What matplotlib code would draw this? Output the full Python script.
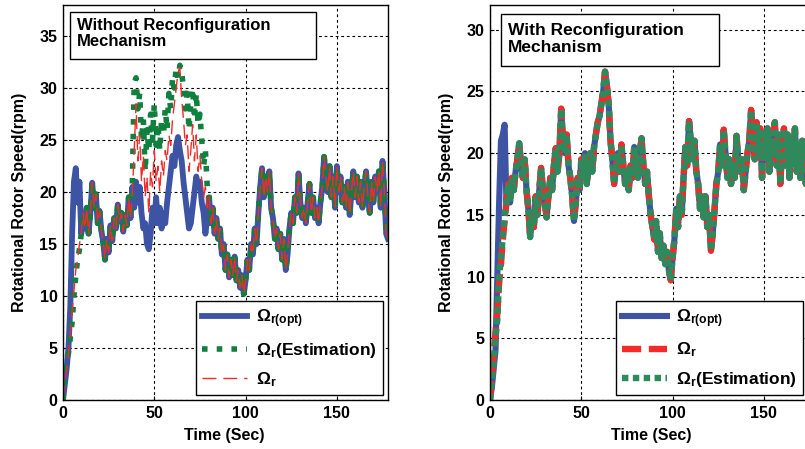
import numpy as np
import matplotlib
matplotlib.use('Agg')
import matplotlib.pyplot as plt
from matplotlib.patches import Rectangle

plt.rcParams['font.family'] = ['Liberation Sans', 'DejaVu Sans']
plt.rcParams['font.weight'] = 'bold'
plt.rcParams['mathtext.fontset'] = 'custom'
plt.rcParams['mathtext.rm'] = 'Liberation Sans:bold'
plt.rcParams['mathtext.bf'] = 'Liberation Sans:bold'
plt.rcParams['mathtext.it'] = 'Liberation Sans:bold'

# ---- left panel (without reconfiguration), 1 s samples ----
left_start_opt = [0, 1.5, 3, 5, 9, 16, 21, 22.3, 19, 21]
left_start_est = [0, 2.5, 4, 4.5, 6, 7.5, 10, 12, 13.5, 14.5]
left_start_rotor = [0, 1.5, 3, 4.5, 6.5, 8.5, 10.5, 12.5, 13.5, 15]
left_mid = [16, 18, 16.5, 18.5, 16, 18, 20.9, 18.5, 19.8, 17,
            18.2, 16.3, 15.2, 13.5, 15.5, 14.2, 16.8, 15.3, 17.5, 16.5,
            18.8, 17.2, 18, 16.2, 17.8, 16.8, 19.5, 17.5]
left_peak_opt = [20.5, 18.5, 21, 19, 20.5, 18, 16.5, 17, 15, 14.5,
                 16, 18.5, 17, 19.5, 17, 18.5, 16.5, 18, 17, 19,
                 20.5, 22, 23.5, 22.5, 24.5, 25.3, 24, 23, 21, 19.5,
                 18, 16.5, 17, 18.5, 20, 21.5, 20.5, 21, 19, 18, 16, 17.5]
left_peak_est = [21, 30.5, 31, 28, 29.5, 25, 27, 22, 26, 24,
                 27.5, 25, 28.5, 24.5, 26.5, 24, 27, 25.5, 28, 26,
                 29.5, 28, 31, 30, 32, 31, 32.2, 31.5, 30, 28,
                 29.5, 26, 28.5, 30, 27, 29.5, 26.5, 27.5, 25, 22.5, 24, 20.5]
left_peak_rotor = [20, 24, 28.5, 23, 25.5, 21, 23.5, 19.5, 21.5, 18,
                   22, 20.5, 24, 21, 22.5, 20, 23, 21.5, 24, 23,
                   25.5, 24.5, 27, 28.5, 30, 31.5, 32, 29, 27, 24.5,
                   25.5, 22, 24, 26.5, 23, 25.5, 22, 23.5, 21, 19.5, 20.5, 18.5]
left_tail = [19.5, 17, 18.5, 16, 17.5, 15.5, 16.5, 14, 15, 12.5,
             14, 11.8, 13.5, 12, 13.8, 11.5, 12.5, 10.8, 12, 10.2,
             11.5, 13.5, 12.5, 15, 14, 16.5, 15, 18, 20.5, 22.3,
             19.5, 21.5, 20, 22, 18.5, 17.5, 15.5, 16.5, 14.5, 16,
             13.5, 15.5, 12.5, 14, 16.5, 18, 17, 19.5, 18, 21.8,
             19, 17.5, 18.5, 17, 19, 20.8, 18, 19.5, 17.5, 18.5,
             17, 19, 20.5, 23.4, 21.5, 20, 22.5, 19.5, 21.5, 18.5,
             22.5, 20, 21.5, 19, 20.5, 18.5, 21, 17.8, 20, 22,
             19.5, 21.5, 19, 21, 18.5, 20.5, 22, 19.5, 18, 21,
             19, 21.5, 20, 22, 18.5, 23, 20, 16, 15.5]

# ---- right panel (with reconfiguration) ----
right_start_opt = [0, 1, 2.5, 4, 10, 16, 21, 21.5, 22.3]
right_start_rotor = [0, 2, 3.5, 5.5, 7, 9.5, 11, 13, 14.5]
right_start_est = [0, 1.5, 3, 5, 6.5, 10, 11.5, 13.3, 14.8]
right_common = [16, 17.5, 16, 18, 17, 18.5, 19.5, 20.8, 19, 18,
                19.5, 17, 15.5, 13.2, 15, 14, 16.5, 15, 17, 18.8,
                17, 16, 14.8, 16.5, 18, 17, 19, 20.4, 18.5, 20,
                23.6, 21, 20, 21.5, 19, 18, 16.5, 14.5, 16, 18,
                17, 19.5, 18, 20, 17.5, 19, 20, 18.5, 20.5, 21.5,
                22.5, 23, 24, 25, 26.6, 25.5, 24, 21, 19.5, 17.5,
                19, 20, 18.5, 20.7, 19, 17.5, 18.5, 17, 19, 18,
                20.5, 19.5, 18, 20, 21.2, 19, 17.5, 18.5, 16.5, 15,
                14, 13, 14.5, 12, 13.5, 11.5, 12.5, 11, 12, 10.5,
                9.7, 11.5, 13, 15.5, 14, 16.5, 15, 18, 20.5, 19,
                22.6, 21, 19.5, 21, 18.5, 17.5, 15.5, 16.5, 14.8, 16.5,
                14, 15, 12.1, 13.5, 15.5, 17.5, 18.5, 20.7, 19, 21.9,
                20, 18, 19.5, 17.5, 19, 18, 21.4, 19.5, 18.5, 19.5,
                17, 18.5, 20, 21, 23.5, 21, 19.5, 22.5, 20, 22,
                18, 21.5, 19.5, 22, 18.5, 21, 20, 22.5, 19, 21.5,
                17.5, 20.5, 22, 19, 21.5, 18, 21, 19.5, 22, 18.5,
                20.5, 18, 21, 19.5, 17.5, 20, 21.5, 19, 20.5, 18.5]

opt_left = np.array(left_start_opt + left_mid + left_peak_opt + left_tail)
est_left = np.array(left_start_est + left_mid + left_peak_est + left_tail)
rotor_left = np.array(left_start_rotor + left_mid + left_peak_rotor + left_tail)
t_left = np.arange(len(opt_left))

opt_right = np.array(right_start_opt + right_common)
rotor_right = np.array(right_start_rotor + right_common)
est_right = np.array(right_start_est + right_common)
t_right = np.arange(len(opt_right))

blue = '#3D54A5'
green_l = '#10803E'
green_r = '#2E8A5C'
red = '#F42A2A'

lab_opt = r'$\Omega_{\mathregular{r(opt)}}$'
lab_rotor = r'$\Omega_{\mathregular{r}}$'
lab_est = r'$\Omega_{\mathregular{r}}\mathregular{(Estimation)}$'

fig = plt.figure(figsize=(8.05, 4.49), dpi=100)
W, H = 805., 449.
ax1 = fig.add_axes([63/W, 1-400/H, 325/W, 395/H])
ax2 = fig.add_axes([490/W, 1-400/H, 325/W, 395/H])


def style_axes(ax, ymax, yticks):
    ax.set_xlim(0, 178)
    ax.set_ylim(0, ymax)
    ax.set_xticks([0, 50, 100, 150])
    ax.set_yticks(yticks)
    ax.grid(True, color='k', linestyle=(0, (2.5, 2.5)), linewidth=0.8)
    ax.tick_params(direction='in', labelsize=11.5, length=3, pad=4)
    for lbl in ax.get_xticklabels() + ax.get_yticklabels():
        lbl.set_fontweight('bold')
    for s in ax.spines.values():
        s.set_linewidth(1.0)
    ax.set_xlabel('Time (Sec)', fontsize=11.5, fontweight='bold')
    ax.set_ylabel('Rotational Rotor Speed(rpm)', fontsize=11.5, fontweight='bold')
    ax.xaxis.set_label_coords(0.495, -0.07)
    ax.yaxis.set_label_coords(-0.11, 0.5)


def make_legend(ax, handles, anchor, loc):
    leg = ax.legend(handles=handles, loc=loc, bbox_to_anchor=anchor,
                    fancybox=False, edgecolor='k', framealpha=1, fontsize=12.5,
                    handlelength=2.6, labelspacing=0.62, borderaxespad=0,
                    borderpad=0.35, handletextpad=0.5)
    leg.get_frame().set_linewidth(1.0)
    return leg


# left
l1, = ax1.plot(t_left, opt_left, color=blue, lw=4.2, label=lab_opt)
l2, = ax1.plot(t_left, est_left, color=green_l, lw=4.0, linestyle=':', label=lab_est)
l3, = ax1.plot(t_left, rotor_left, color=red, lw=1.0, linestyle=(0, (10, 5)), label=lab_rotor)
style_axes(ax1, 38, [0, 5, 10, 15, 20, 25, 30, 35])
ax1.add_patch(Rectangle((7/325, 341/395), 246/325, 47/395, transform=ax1.transAxes,
                        fc='white', ec='k', lw=1.0, zorder=5))
ax1.text(0.043, 0.968, 'Without Reconfiguration\nMechanism', transform=ax1.transAxes,
         ha='left', va='top', fontsize=12, fontweight='bold', linespacing=1.1, zorder=6)
make_legend(ax1, [l1, l2, l3], (0.985, 0.012), 'lower right')

# right
r1, = ax2.plot(t_right, opt_right, color=blue, lw=4.4, label=lab_opt)
r2, = ax2.plot(t_right, rotor_right, color=red, lw=4.6, linestyle=(0, (3, 1.2)), label=lab_rotor)
r3, = ax2.plot(t_right, est_right, color=green_r, lw=4.6, linestyle=(0, (1, 0.7)), label=lab_est)
style_axes(ax2, 32, [0, 5, 10, 15, 20, 25, 30])
ax2.add_patch(Rectangle((11/325, 334/395), 218/325, 52/395, transform=ax2.transAxes,
                        fc='white', ec='k', lw=1.0, zorder=5))
ax2.text(0.055, 0.955, 'With Reconfiguration\nMechanism', transform=ax2.transAxes,
         ha='left', va='top', fontsize=12.5, fontweight='bold', linespacing=1.15, zorder=6)
make_legend(ax2, [r1, r2, r3], (0.388, 0.012), 'lower left')

fig.savefig('out.png', dpi=100)
